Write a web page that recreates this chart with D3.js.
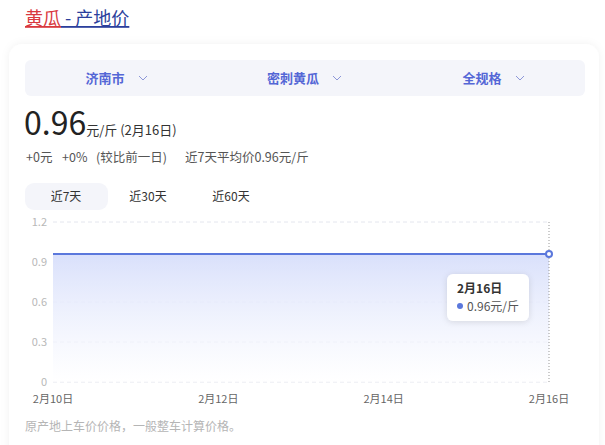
<!DOCTYPE html>
<html><head><meta charset="utf-8">
<script src="https://cdn.jsdelivr.net/npm/d3@7/dist/d3.min.js"></script>
<style>
html,body{margin:0;padding:0;background:#fff;width:605px;height:445px;overflow:hidden;font-family:"Noto Sans CJK SC","Noto Sans",sans-serif;}
svg{display:block}
</style></head><body>
<svg id="c" width="605" height="445"></svg>
<script>
const dates = ["2月10日","2月11日","2月12日","2月13日","2月14日","2月15日","2月16日"];
const prices = [0.96,0.96,0.96,0.96,0.96,0.96,0.96];
const yTicks = [0,0.3,0.6,0.9,1.2];
const xTickLabels = ["2月10日","2月12日","2月14日","2月16日"];
const selectors = ["济南市","密刺黄瓜","全规格"];
const tabs = ["近7天","近30天","近60天"];

const svg = d3.select("#c");
const F = '"Noto Sans CJK SC","Noto Sans",sans-serif';

const defs = svg.append("defs");
const sh = defs.append("filter").attr("id","sh").attr("x","-10%").attr("y","-10%").attr("width","120%").attr("height","120%");
sh.append("feDropShadow").attr("dx",0).attr("dy",0).attr("stdDeviation",4).attr("flood-color","#000").attr("flood-opacity",0.06);
const sh2 = defs.append("filter").attr("id","sh2").attr("x","-20%").attr("y","-20%").attr("width","140%").attr("height","140%");
sh2.append("feDropShadow").attr("dx",0).attr("dy",1).attr("stdDeviation",3).attr("flood-color","#000").attr("flood-opacity",0.12);
const gr = defs.append("linearGradient").attr("id","gr").attr("x1",0).attr("y1",0).attr("x2",0).attr("y2",1);
gr.append("stop").attr("offset","0%").attr("stop-color","#d9e0fb");
gr.append("stop").attr("offset","100%").attr("stop-color","#ffffff").attr("stop-opacity",0.6);

// title
const t = svg.append("text").attr("x",25).attr("y",25).attr("font-family",F).attr("font-size",18);
t.append("tspan").attr("fill","#d9383e").attr("text-decoration","underline").text("黄瓜");
t.append("tspan").attr("fill","#2b3f9c").attr("text-decoration","underline").text(" - 产地价");

// card
svg.append("rect").attr("x",9).attr("y",44).attr("width",590).attr("height",420).attr("rx",14).attr("fill","#fff").attr("filter","url(#sh)");

// selector bar
svg.append("rect").attr("x",25).attr("y",60).attr("width",560).attr("height",36).attr("rx",6).attr("fill","#f4f5fa");
const selX = [105,293,482];
const chevX = [143,337,520];
selectors.forEach((s,i)=>{
  svg.append("text").attr("x",selX[i]).attr("y",83).attr("text-anchor","middle").attr("font-family",F).attr("font-size",13).attr("font-weight","bold").attr("fill","#5467d6").text(s);
  const cx = chevX[i];
  svg.append("path").attr("d",`M${cx-4},${76}L${cx},${80}L${cx+4},${76}`).attr("fill","none").attr("stroke","#8d97d8").attr("stroke-width",1);
});

// big price
const bp = svg.append("text").attr("x",24).attr("y",135).attr("font-family",F).attr("fill","#222");
bp.append("tspan").attr("font-size",32).text("0.96");
bp.append("tspan").attr("font-size",13).attr("fill","#333").text("元/斤 (2月16日)");

const l2 = [["+0元",26],["+0%",62],["(较比前一日)",96],["近7天平均价0.96元/斤",185]];
l2.forEach(([s,xx])=>{
  svg.append("text").attr("x",xx).attr("y",162).attr("font-family",F).attr("font-size",12.5).attr("fill","#555").text(s);
});

// tabs
svg.append("rect").attr("x",25).attr("y",183).attr("width",83).attr("height",27).attr("rx",9).attr("fill","#f4f5fa");
const tabX = [66,148,231];
tabs.forEach((s,i)=>{
  svg.append("text").attr("x",tabX[i]).attr("y",201).attr("text-anchor","middle").attr("font-family",F).attr("font-size",12).attr("fill","#333").text(s);
});

// chart
const x = d3.scalePoint().domain(dates).range([53,549]);
const y = d3.scaleLinear().domain([0,1.2]).range([382,222]);

const grid = svg.append("g");
yTicks.forEach(v=>{
  grid.append("line").attr("x1",53).attr("x2",549).attr("y1",y(v)).attr("y2",y(v)).attr("stroke","#e4e6ee").attr("stroke-dasharray","4,3");
  grid.append("text").attr("x",47).attr("y",y(v)+4).attr("text-anchor","end").attr("font-family",F).attr("font-size",11).attr("fill","#b8b8b8").text(v===0?"0":v.toFixed(1));
});

const area = d3.area().x(d=>x(d.d)).y0(y(0)).y1(d=>y(d.v));
const line = d3.line().x(d=>x(d.d)).y(d=>y(d.v));
const data = dates.map((d,i)=>({d,v:prices[i]}));
svg.append("path").datum(data).attr("d",area).attr("fill","url(#gr)");
svg.append("path").datum(data).attr("d",line).attr("fill","none").attr("stroke","#5b78dc").attr("stroke-width",2);

// x labels
xTickLabels.forEach(d=>{
  svg.append("text").attr("x",x(d)).attr("y",403).attr("text-anchor","middle").attr("font-family",F).attr("font-size",11).attr("fill","#666").text(d);
});

// hover
const last = data[data.length-1];
svg.append("line").attr("x1",x(last.d)).attr("x2",x(last.d)).attr("y1",222).attr("y2",382).attr("stroke","#999").attr("stroke-dasharray","1,2");
svg.append("circle").attr("cx",x(last.d)).attr("cy",y(last.v)).attr("r",3).attr("fill","#fff").attr("stroke","#5b78dc").attr("stroke-width",2);

svg.append("rect").attr("x",447).attr("y",274).attr("width",82).attr("height",47).attr("rx",6).attr("fill","#fff").attr("filter","url(#sh2)");
svg.append("text").attr("x",457).attr("y",293).attr("font-family",F).attr("font-size",12).attr("font-weight","bold").attr("fill","#333").text(last.d);
svg.append("circle").attr("cx",460).attr("cy",306).attr("r",3).attr("fill","#5b78dc");
svg.append("text").attr("x",467).attr("y",311).attr("font-family",F).attr("font-size",12).attr("fill","#555").text(last.v.toFixed(2)+"元/斤");

// footer
svg.append("text").attr("x",25).attr("y",431).attr("font-family",F).attr("font-size",12).attr("fill","#b5b5b5").text("原产地上车价价格，一般整车计算价格。");
</script>
</body></html>
